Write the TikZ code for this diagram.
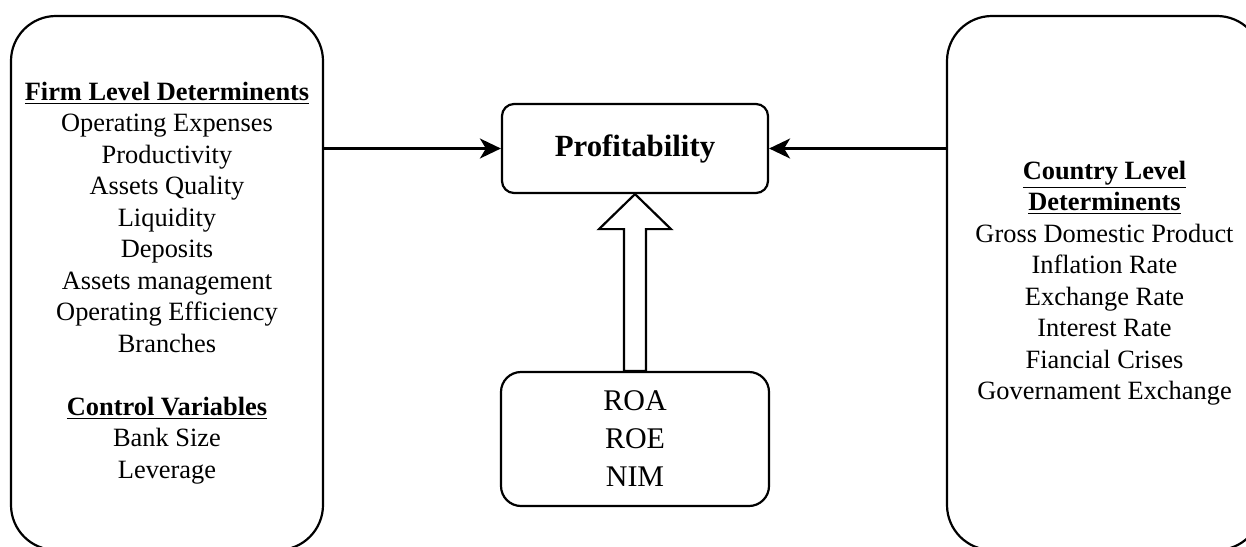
\documentclass[tikz,border=0pt]{standalone}
\usepackage{fontspec}
\setmainfont{Liberation Serif}
\usetikzlibrary{arrows.meta,calc}

\begin{document}
\begin{tikzpicture}[x=0.5pt,y=-0.5pt,
  panel/.style={draw, line width=1.1pt, rounded corners=22.5pt, align=center,
    inner sep=0pt, minimum height=267pt, font=\fontsize{13.2}{15.75}\selectfont},
  target/.style={draw, line width=1.1pt, rounded corners=6pt, align=center,
    inner sep=0pt, minimum width=133pt, minimum height=44.5pt,
    font=\fontsize{15.4}{19}\selectfont\bfseries},
  measures/.style={draw, line width=1.1pt, rounded corners=10pt, align=center,
    inner sep=0pt, minimum width=134pt, minimum height=67pt,
    font=\fontsize{15}{19}\selectfont},
  conn/.style={line width=1.1pt, -{Stealth[length=10.5pt,width=10pt,inset=3pt]}},
  head/.style={font=\bfseries}]
\useasboundingbox (0,0) rectangle (1246,546);
\clip (0,0) rectangle (1246,546);

% left panel: firm level determinants and control variables
\node[panel, minimum width=156pt] (firm) at (167,283) {%
  \textbf{\underline{Firm Level Determinents}}\\
  Operating Expenses\\
  Productivity\\
  Assets Quality\\
  Liquidity\\
  Deposits\\
  Assets management\\
  Operating Efficiency\\
  Branches\\[15.75pt]
  \textbf{\underline{Control Variables}}\\
  Bank Size\\
  Leverage};

% right panel: country level determinants
\node[panel, minimum width=157.5pt] (country) at (1104.5,283) {%
  \textbf{\underline{Country Level}}\\
  \textbf{\underline{Determinents}}\\
  Gross Domestic Product\\
  Inflation Rate\\
  Exchange Rate\\
  Interest Rate\\
  Fiancial Crises\\
  Governament Exchange};

% central boxes
\node[target] (prof) at (635,148.5) {Profitability};
\node[measures] (ratios) at (635,439) {ROA\\ROE\\NIM};

% connectors
\draw[conn] (firm.east |- prof.west) -- (prof.west);
\draw[conn] (country.west |- prof.east) -- (prof.east);

% hollow block arrow from the ratios up to profitability
\draw[line width=1.1pt, fill=white, line join=miter]
  (prof.south)
  -- ($(prof.south)+(36,35)$)
  -- ($(prof.south)+(11,35)$)
  -- ($(ratios.north)+(11,0)$)
  -- ($(ratios.north)+(-11,0)$)
  -- ($(prof.south)+(-11,35)$)
  -- ($(prof.south)+(-36,35)$)
  -- cycle;
\end{tikzpicture}
\end{document}
